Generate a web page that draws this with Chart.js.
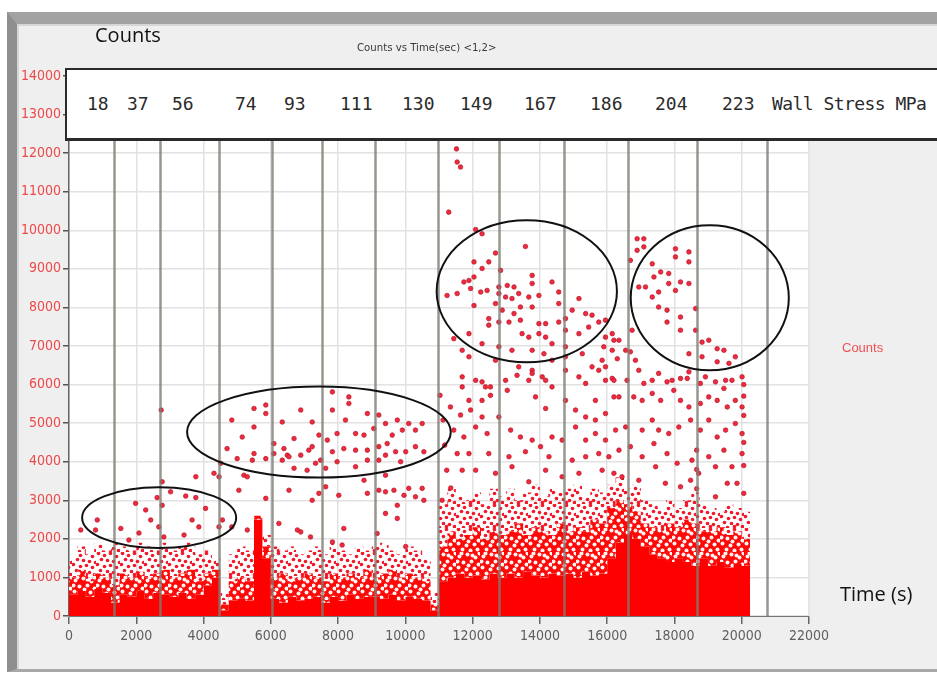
<!DOCTYPE html>
<html>
<head>
<meta charset="utf-8">
<title>Counts vs Time</title>
<script src="https://cdn.jsdelivr.net/npm/chart.js@4.4.1/dist/chart.umd.min.js"></script>
<style>
  html, body { margin: 0; padding: 0; background: #fff; }
  #wrap { position: relative; width: 937px; height: 674px; overflow: hidden; }
  #panel {
    position: absolute; left: 7px; top: 12px; width: 945px; height: 660px;
    box-sizing: border-box; background: #efefef;
    border-left: 10px solid #8f8f8f; border-top: 12px solid #a2a2a2;
    border-bottom: 3px solid #a8a8a8;
    box-shadow: inset 2px 2px 0 #d6d6d6;
  }
  #chart { position: absolute; left: 0; top: 0; }
  .txt { position: absolute; white-space: nowrap; }
  #axisY { left: 95px; top: 21px; font: 20px 'Open Sans', sans-serif; color: #111; }
  #axisX { left: 840px; top: 580px; font: 20px 'Open Sans', sans-serif; color: #111; }
  #title { left: 357px; top: 41px; font: 11.3px 'Liberation Sans Narrow', 'DejaVu Sans Condensed', sans-serif; color: #3a3a3a; }
  #legend { left: 842px; top: 340px; font: 13px 'Liberation Sans', sans-serif; color: #f05050; }
  #stressBox {
    position: absolute; left: 65px; top: 68px; width: 900px; height: 73px;
    box-sizing: border-box; background: #fff;
    border-top: 2px solid #2a2a2a; border-bottom: 3px solid #2a2a2a; border-left: 2px solid #2a2a2a;
  }
  #stressBox span {
    position: absolute; top: 23px; font: 18px 'DejaVu Sans Mono', monospace; color: #2a2a2a;
  }
  #stressBox span.unit { letter-spacing: -0.55px; }
</style>
</head>
<body>
<div id="wrap">
  <div id="panel"></div>
  <canvas id="chart" width="937" height="674"></canvas>
  <div class="txt" id="title">Counts vs Time(sec) &lt;1,2&gt;</div>
  <div class="txt" id="axisY">Counts</div>
  <div class="txt" id="axisX">Time (s)</div>
  <div class="txt" id="legend">Counts</div>
  <div id="stressBox"></div>
</div>
<script>
// ── Data ───────────────────────────────────────────────────────────────────
const BIN = 250; // seconds per bin of the band at the bottom

// top of the solid band of counts, one value per bin from t = 0
const coreTop = [
  550, 650, 500, 700,   600, 350, 550, 500,   650, 450, 600, 550,   500, 600, 450, 550,
  800, 1000, 150, 400,  450, 400, 2500, 1500, 450, 350, 500, 400,   450, 500, 350, 500,
  400, 550, 450, 500,   500, 450, 550, 400,   500, 450, 400, 150,   900, 1000, 1100, 1000,
  1050, 950, 1100, 1000, 1100, 1000, 1150, 1050, 1000, 1100, 1050, 1100, 1000, 1150, 1050, 1100,
  1500, 1900, 2100, 2000, 1800, 1600, 1500, 1400, 1500, 1400, 1300, 1500, 1300, 1400, 1250, 1350,
  1300
];
// top of the packed hits just above the solid band
const denseTop = [
  1000, 1200, 900, 1100,  1000, 800, 1100, 1000,  1150, 1000, 1100, 1200,  1000, 1100, 1200, 900,
  1100, 1200, 300, 900,   1000, 900, 2600, 1800,  1000, 1100, 900, 1000,   1100, 1000, 900, 1100,
  1000, 1100, 1000, 1200, 1000, 1100, 1200, 1000, 1100, 1000, 900, 300,    1800, 2200, 2000, 2100,
  2300, 2000, 2200, 2100, 2200, 2400, 2100, 2300, 2200, 2100, 2400, 2200,  2300, 2200, 2500, 2400,
  2800, 3000, 2900, 2700, 2400, 2300, 2200, 2400, 2300, 2500, 2400, 2200,  2200, 2300, 2100, 2200,
  2000
];
// top of the thinner scatter that fades out above that
const hazeTop = [
  1500, 1800, 1600, 1900, 1700, 1900, 1800, 1700, 1900, 1800, 1700, 1900,  1700, 1800, 1900, 1600,
  1700, 1500, 600, 1600,  1800, 1700, 2600, 2100, 1800, 1700, 1800, 1600,  1700, 1800, 1600, 1900,
  1700, 1600, 1800, 1700, 1800, 1900, 1700, 1600, 1800, 1700, 1500, 600,   2900, 3300, 3100, 3000,
  3200, 2900, 3300, 3100, 3300, 3000, 3200, 3400, 3100, 3300, 3200, 3300,  3400, 3100, 3300, 3200,
  3400, 3600, 3300, 3400, 3000, 2900, 2800, 3000, 2800, 3000, 3200, 2900,  2800, 2700, 2900, 2800,
  2700
];

// single hits above the band, [time s, counts]
const hitsEarly = [
  [350,2230],[790,2230],[840,2490],[1540,2270],[1780,1970],[1980,2920],[2080,2150],[2280,2750],
  [2430,2490],[2620,3070],[2670,2310],[2740,5340],[2770,2870],[2770,3480],[2820,2050],[3020,3220],
  [3420,2100],[3470,3110],[3660,2490],[3770,3070],[3770,3610],[3860,2310],[4060,2790],[4310,3700],
  [4460,2310],[4460,3610],[4510,3960],[4560,2490],[4700,4340],[4840,2310],[4840,5080],[5000,4080],
  [5050,3260],[5150,4640],[5200,3650],[5300,2230],[5300,3610],[5450,4040],[5500,4900],[5500,5380],
  [5500,4210],[5850,3050],[5850,5470],[5850,5250],[5850,4080],[6090,4470],[6090,4210],[6240,2400],
  [6340,5030],[6340,4040],[6390,4340],[6490,4170],[6540,3260],[6540,4130],[6690,4600],[6690,3830],
  [6790,2230],[6890,2180],[6890,5340],[6890,4170],[7080,3780],[7130,4300],[7180,2050],[7230,3000],
  [7230,5030],[7230,4390],[7330,3960],[7430,4690],[7430,3180],[7480,4040],[7630,3830],[7630,3350],
  [7680,4560],[7830,5810],[7830,5340],[7830,4260],[7830,1920],[7970,4730],[7970,4000],[8020,3130],
  [8120,1840],[8170,4340],[8170,2270],[8220,5080],[8320,5680],[8320,5510],[8520,4730],[8520,4300],
  [8520,3870],[8770,4690],[8770,3520],[8870,5250],[8870,4300],[8870,4040],[8870,3180],[9060,4860],
  [9160,2140],[9210,5210],[9210,4390],[9210,4040],[9210,3260],[9410,4990],[9410,4170],[9410,3650],
  [9410,3220],[9410,2660],[9460,4470],[9610,4690],[9660,3260],[9710,4260],[9760,5080],[9760,2870],
  [9760,2530],[9860,4000],[9910,4820],[9960,3130],[10010,4260],[10010,1800],[10100,4990],[10100,3310],
  [10300,4820],[10300,4390],[10300,3090],[10500,4990],[10500,3310],[10550,4260],[10550,3000]
];
const hitsMid = [
  [11030,5720],[11090,3000],[11120,5080],[11170,4430],[11230,3780],[11240,8310],[11290,10470],[11340,5420],
  [11350,3320],[11440,7190],[11440,4820],[11520,12110],[11540,11770],[11540,8360],[11540,4210],[11640,11640],
  [11640,5210],[11690,6890],[11690,6200],[11690,5940],[11690,3780],[11740,8660],[11740,4640],[11890,8700],
  [11890,7320],[11890,6720],[11890,5590],[11890,4210],[11940,8490],[11940,5340],[12040,9180],[12040,8790],
  [12040,8050],[12090,10020],[12090,6110],[12090,4900],[12090,3780],[12240,8400],[12280,9910],[12280,9010],
  [12280,7060],[12280,6070],[12280,5590],[12280,5160],[12380,5940],[12430,8440],[12430,4730],[12480,9180],
  [12480,7710],[12480,7540],[12480,4210],[12530,5940],[12530,5720],[12680,9410],[12680,8100],[12680,6630],
  [12680,3700],[12780,8530],[12780,8360],[12780,7620],[12780,6980],[12780,5160],[12830,8960],[12880,7930],
  [12980,8270],[12980,6110],[13030,8570],[13030,5850],[13080,7620],[13080,4130],[13130,4820],[13170,8230],
  [13170,6890],[13170,3870],[13230,8530],[13230,7840],[13320,6240],[13370,8360],[13370,6460],[13420,8010],
  [13420,7670],[13420,4640],[13470,7320],[13570,9580],[13570,4260],[13670,8270],[13670,7230],[13670,6110],
  [13670,3480],[13770,8830],[13770,8620],[13770,8010],[13770,6890],[13770,6370],[13770,6290],[13770,4560],
  [13870,5680],[13970,8310],[13970,7580],[13970,7320],[14020,4390],[14070,6200],[14120,6800],[14170,7580],
  [14170,7230],[14170,6110],[14170,5380],[14170,3780],[14270,4130],[14360,8660],[14360,7060],[14360,6630],
  [14360,5940],[14360,4640],[14560,8400],[14560,8100],[14560,7620],[14660,4560],[14660,3610],[14760,7710],
  [14760,7410],[14760,6980],[14760,6720],[14760,6370],[14760,5590],[14960,7930],[14960,4040],[15060,5340],
  [15060,4900],[15160,8230],[15160,7320],[15160,6200],[15160,3700],[15260,6800],[15360,7840],[15360,6030],
  [15360,5160],[15360,4560],[15360,4130],[15450,7490],[15550,7800],[15550,6460],[15650,5080],[15650,5590],
  [15650,4730],[15750,7620],[15750,6370],[15750,4210],[15850,6630],[15850,3780],[15900,6980],[15950,7670],
  [15950,7230],[15950,6460],[15950,6110],[15950,5250],[15950,4560],[16050,4130],[16150,7320],[16150,6890],
  [16150,6160],[16200,7150],[16200,6110],[16200,5680],[16200,3700],[16250,4820],[16300,6670],[16350,7150],
  [16350,5680],[16350,4300],[16440,3610],[16550,6890],[16550,4900],[16590,6110]
];
const hitsLate = [
  [16690,9220],[16690,6850],[16690,4390],[16740,7410],[16790,5680],[16840,6630],[16890,9780],[16890,9480],
  [16940,8530],[16940,6370],[16940,3520],[17040,5590],[17040,4820],[17040,4130],[17090,9780],[17090,9570],
  [17090,6030],[17140,8530],[17340,9130],[17340,8270],[17340,6110],[17340,5770],[17340,5080],[17390,8790],
  [17390,4470],[17440,3870],[17530,8400],[17530,8010],[17530,6290],[17530,4820],[17590,8920],[17590,5590],
  [17730,3440],[17780,7930],[17780,7620],[17780,6070],[17780,4210],[17830,8880],[17830,8620],[17830,4730],
  [17930,6110],[17980,5850],[18030,9520],[18030,9310],[18030,8440],[18080,3960],[18130,4900],[18180,8660],
  [18180,7750],[18180,7410],[18180,6160],[18180,5590],[18180,3350],[18380,6160],[18430,9440],[18430,9180],
  [18430,8620],[18430,6800],[18430,6330],[18430,5420],[18480,5080],[18480,3520],[18520,4040],[18630,7970],
  [18630,7410],[18660,4300],[18660,3800],[18660,3300],[18720,3700],[18770,6030],[18770,5510],[18770,4820],
  [18820,7100],[18820,6720],[18920,6200],[19020,7150],[19020,5680],[19020,5080],[19020,4130],[19220,6070],
  [19220,3870],[19220,3090],[19270,6930],[19270,6590],[19270,5590],[19270,4640],[19470,6890],[19470,5900],
  [19470,4300],[19520,6110],[19520,4820],[19570,5420],[19570,3440],[19620,6550],[19710,6110],[19710,3870],
  [19810,6720],[19810,5590],[19810,4990],[19860,3440],[20010,6200],[20010,5420],[20010,4730],[20010,4210],
  [20060,6000],[20060,5700],[20060,5200],[20060,4500],[20060,3900],[20060,3180]
];

// load steps: time each step starts (s) and its wall stress (MPa)
const stageTimes   = [1340, 2700, 4460, 6030, 7520, 9090, 10970, 12780, 14710, 16610, 18660, 20740];
const stressLabels = ['18', '37', '56', '74', '93', '111', '130', '149', '167', '186', '204', '223'];
const stressUnit   = 'Wall Stress MPa';

// marked groups of hits: centre (s, counts) and half sizes
const ringT  = [2680, 7430, 13610, 19050];
const ringC  = [2550, 4770, 8420, 8250];
const ringDT = [2290, 3920, 2680, 2350];
const ringDC = [790, 1180, 1840, 1880];

// ── Layout ─────────────────────────────────────────────────────────────────
const stressLeft = [20, 60, 105, 168, 217, 273, 335, 393, 457, 523, 588, 655, 705];
const NARROW = "'Liberation Sans Narrow', 'DejaVu Sans Condensed', sans-serif";

// texture tiles (24 px) for the packed and the thin parts of the band
const denseHoles = [[3,4],[11,2],[19,5],[7,10],[15,9],[22,12],[2,15],[10,17],[18,16],[6,21],
                    [14,22],[21,21],[1,9],[12,13],[23,1],[16,3],[5,1]];
const hazeDots   = [[2,1],[8,3],[14,1],[20,4],[5,7],[11,8],[17,9],[23,10],[1,12],[8,14],
                    [14,13],[20,15],[4,18],[11,19],[17,20],[22,22],[7,23],[14,22]];

const box = document.getElementById('stressBox');
stressLabels.concat(stressUnit).forEach((s, i) => {
  const el = document.createElement('span');
  el.textContent = s;
  el.style.left = stressLeft[i] + 'px';
  if (s === stressUnit) el.className = 'unit';
  box.appendChild(el);
});

function tile(base, dots, color, r) {
  const c = document.createElement('canvas');
  c.width = c.height = 24;
  const g = c.getContext('2d');
  if (base) { g.fillStyle = base; g.fillRect(0, 0, 24, 24); }
  g.fillStyle = color;
  dots.forEach(([x, y]) => {
    g.beginPath();
    g.arc(x + 0.5, y + 0.5, r, 0, Math.PI * 2);
    g.fill();
  });
  return g.createPattern(c, 'repeat');
}

// one step per bin, closed at the right edge of the last bin
function steps(tops) {
  const pts = tops.map((v, i) => ({ x: i * BIN, y: v }));
  pts.push({ x: tops.length * BIN, y: tops[tops.length - 1] });
  return pts;
}

const hits = hitsEarly.concat(hitsMid, hitsLate);

// ── Overlays: plot fill, step lines, rings ────────────────────────────────
const overlay = {
  id: 'overlay',
  beforeDraw(chart) {
    const { ctx, chartArea: a } = chart;
    ctx.save();
    ctx.fillStyle = '#fff';
    ctx.fillRect(a.left, a.top, a.right - a.left, a.bottom - a.top);
    ctx.restore();
  },
  afterDatasetsDraw(chart) {
    const { ctx, chartArea: a, scales: { x, y } } = chart;
    ctx.save();
    ctx.strokeStyle = 'rgba(125,125,115,0.8)';
    ctx.lineWidth = 2.5;
    stageTimes.forEach(t => {
      const px = Math.round(x.getPixelForValue(t)) + 0.5;
      ctx.beginPath();
      ctx.moveTo(px, a.bottom);
      ctx.lineTo(px, a.top);
      ctx.stroke();
    });

    ctx.strokeStyle = '#111';
    ctx.lineWidth = 2;
    ringT.forEach((t, i) => {
      const cx = x.getPixelForValue(t);
      const cy = y.getPixelForValue(ringC[i]);
      const rx = x.getPixelForValue(t + ringDT[i]) - cx;
      const ry = cy - y.getPixelForValue(ringC[i] + ringDC[i]);
      ctx.beginPath();
      ctx.ellipse(cx, cy, rx, ry, 0, 0, Math.PI * 2);
      ctx.stroke();
    });
    ctx.restore();
  }
};

const bandLine = { type: 'line', stepped: true, pointRadius: 0, borderWidth: 0, tension: 0 };

// ── Chart ──────────────────────────────────────────────────────────────────
new Chart(document.getElementById('chart'), {
  type: 'scatter',
  data: {
    datasets: [
      {
        label: 'Counts',
        data: hits,
        order: 1,
        pointStyle: 'circle',
        pointRadius: 2.3,
        backgroundColor: '#ee2a3c',
        borderColor: '#b8182e',
        borderWidth: 0.7
      },
      { ...bandLine, data: steps(coreTop), order: 4, fill: 'origin', backgroundColor: '#ff0000' },
      { ...bandLine, data: steps(denseTop), order: 3, fill: 1,
        backgroundColor: tile('#ff0808', denseHoles, '#fff4f2', 2) },
      { ...bandLine, data: steps(hazeTop), order: 2, fill: 2,
        backgroundColor: tile(null, hazeDots, '#f3172a', 1.8) }
    ]
  },
  options: {
    responsive: false,
    animation: false,
    events: [],
    layout: { padding: { left: 0, top: 76, right: 128, bottom: 18 } },
    plugins: { legend: { display: false }, tooltip: { enabled: false } },
    scales: {
      x: {
        type: 'linear', min: 0, max: 22000, offset: false,
        ticks: { stepSize: 2000, autoSkip: false, maxRotation: 0, color: '#5e5e5e', padding: 4,
                 font: { family: NARROW, size: 14 }, callback: v => String(v) },
        grid: { color: '#e2e2e2', lineWidth: 1.5, tickColor: '#666', tickLength: 8, offset: false },
        border: { color: '#777', width: 1 },
        afterFit(s) { s.height = 40; }
      },
      y: {
        type: 'linear', min: 0, max: 14000,
        ticks: { stepSize: 1000, color: '#ee4848', padding: 2, font: { family: NARROW, size: 14 },
                 callback: v => String(v) },
        grid: { color: '#e2e2e2', lineWidth: 1.5, tickColor: '#555', tickLength: 6 },
        border: { color: '#666', width: 1.5 },
        afterFit(s) { s.width = 69; }
      }
    }
  },
  plugins: [overlay]
});
</script>
</body>
</html>
